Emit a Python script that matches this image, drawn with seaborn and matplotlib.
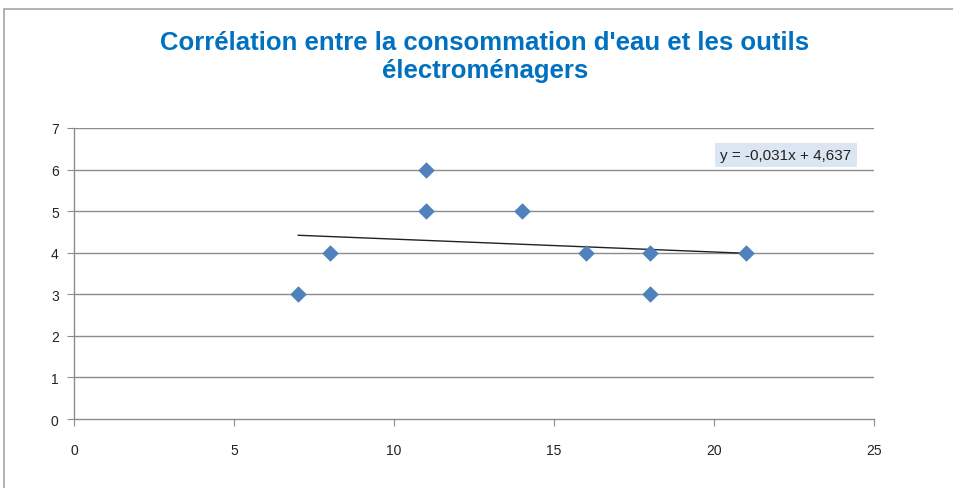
import matplotlib
matplotlib.use("Agg")
import matplotlib.pyplot as plt
import seaborn as sns
import pandas as pd
import numpy as np
from matplotlib.lines import Line2D

# Data
x_vals = [7, 8, 11, 11, 14, 16, 18, 18, 21]
y_vals = [3, 4, 6, 5, 5, 4, 4, 3, 4]
slope = -0.031
intercept = 4.637
title = "Corrélation entre la consommation d'eau et les outils\nélectroménagers"
equation = "y = -0,031x + 4,637"
x_ticks = [0, 5, 10, 15, 20, 25]
y_ticks = [0, 1, 2, 3, 4, 5, 6, 7]

sns.set_style("white")
plt.rcParams['font.family'] = ['Liberation Sans', 'DejaVu Sans']

fig = plt.figure(figsize=(9.54, 4.89), dpi=100)
ax = fig.add_axes([74/954, 1-420/489, 800/954, 291/489])

df = pd.DataFrame({"x": x_vals, "y": y_vals})
ax.set_axisbelow(True)
for yt in y_ticks[1:]:
    ax.axhline(yt, color="#8c8c8c", lw=1.0, zorder=0)

# trend line
tx = np.array([min(x_vals), max(x_vals)], dtype=float)
ax.plot(tx, slope*tx + intercept, color="#222222", lw=1.0, zorder=3)

sns.scatterplot(data=df, x="x", y="y", marker="D", s=62, color="#4F81BD",
                edgecolor="#4F81BD", linewidth=0.5, ax=ax, zorder=4)

ax.set_xlim(0, 25)
ax.set_ylim(0, 7)
ax.set_xticks(x_ticks)
ax.set_yticks(y_ticks)
ax.set_xlabel("")
ax.set_ylabel("")
for s in ["top", "right"]:
    ax.spines[s].set_visible(False)
for s in ["left", "bottom"]:
    ax.spines[s].set_color("#8c8c8c")
    ax.spines[s].set_linewidth(1.0)
ax.tick_params(axis="both", direction="out", length=5, color="#8c8c8c",
               labelsize=10, labelcolor="#222222", left=True, bottom=True)
ax.tick_params(axis="x", pad=12)
ax.tick_params(axis="y", pad=6)

ax.text(786/954, 1-156/489, equation, transform=fig.transFigure, ha="center", va="center",
        fontsize=11, color="#222222",
        bbox=dict(boxstyle="square,pad=0.35", facecolor="#DCE6F2", edgecolor="none"))

fig.text(485/954, 1-57/489, title, ha="center", va="center", fontsize=18.5,
         fontweight="bold", color="#0070C0", linespacing=1.2)

# chart border
fig.add_artist(Line2D([4.5/954, 4.5/954], [0, 1-10/489], transform=fig.transFigure,
                      color="#a6a6a6", lw=1.2))
fig.add_artist(Line2D([4.5/954, 1], [1-10/489, 1-10/489], transform=fig.transFigure,
                      color="#a6a6a6", lw=1.2))

fig.savefig("out.png", dpi=100)
